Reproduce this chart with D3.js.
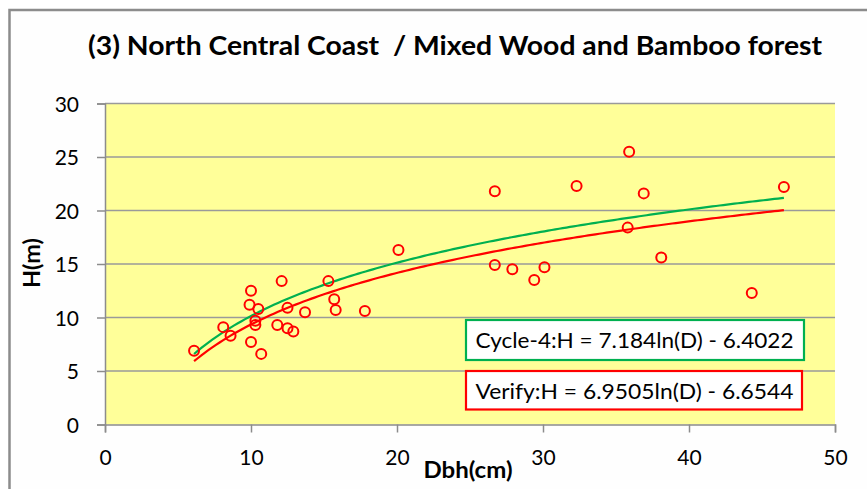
<!DOCTYPE html>
<html>
<head>
<meta charset="utf-8">
<script src="https://cdn.jsdelivr.net/npm/d3@7"></script>
<style>
  body { margin: 0; background: #ffffff; }
  text { font-family: Lato, "Open Sans", sans-serif; fill: #000; white-space: pre; }
</style>
</head>
<body>
<div id="chart"></div>
<script>
var svgWidth = 867;
var svgHeight = 489;

var margin = { top: 103.5, right: 32, bottom: 64.5, left: 105 };
var width = svgWidth - margin.left - margin.right;
var height = svgHeight - margin.top - margin.bottom;

var dbh = [6.1, 8.1, 8.6, 10.0, 9.9, 10.5, 10.3, 10.3, 10.0, 10.7,
           12.1, 12.5, 11.8, 12.5, 12.9, 13.7, 15.3, 15.7, 15.8, 17.8,
           20.1, 26.7, 26.7, 27.9, 29.4, 30.1, 32.3, 35.9, 35.8, 36.9,
           38.1, 44.3, 46.5];
var treeHeight = [6.9, 9.1, 8.3, 12.5, 11.2, 10.8, 9.7, 9.3, 7.7, 6.6,
                  13.4, 10.9, 9.3, 9.0, 8.7, 10.5, 13.4, 11.7, 10.7, 10.6,
                  16.3, 21.8, 14.9, 14.5, 13.5, 14.7, 22.3, 25.5, 18.4, 21.6,
                  15.6, 12.3, 22.2];

// log trendlines H = a*ln(D) + b, as printed in the boxes
var trendNames = ["Cycle-4", "Verify"];
var trendSlope = [7.184, 6.9505];
var trendIntercept = [-6.4022, -6.6544];
var trendLabels = ["Cycle-4:H = 7.184ln(D) - 6.4022", "Verify:H = 6.9505ln(D) - 6.6544"];
var trendColors = ["#00b050", "#ff0000"];

var xTicks = [0, 10, 20, 30, 40, 50];
var yTicks = [0, 5, 10, 15, 20, 25, 30];

var svg = d3.select("#chart")
  .append("svg")
  .attr("width", svgWidth)
  .attr("height", svgHeight);

// outer chart frame (runs off the right and bottom of the picture)
svg.append("rect")
  .attr("x", 9.5)
  .attr("y", 10)
  .attr("width", 900)
  .attr("height", 600)
  .attr("fill", "#fefefe")
  .attr("stroke", "#8c8c8c")
  .attr("stroke-width", 2.5);

svg.append("text")
  .attr("x", 455)
  .attr("y", 55)
  .attr("text-anchor", "middle")
  .attr("font-size", 26)
  .attr("font-weight", "bold")
  .attr("textLength", 734)
  .attr("lengthAdjust", "spacingAndGlyphs")
  .text("(3) North Central Coast  / Mixed Wood and Bamboo forest");

var chartGroup = svg.append("g")
  .attr("transform", `translate(${margin.left}, ${margin.top})`);

var xScale = d3.scaleLinear().domain([0, 50]).range([0, width]);
var yScale = d3.scaleLinear().domain([0, 30]).range([height, 0]);

chartGroup.append("rect")
  .attr("width", width)
  .attr("height", height)
  .attr("fill", "#ffff99");

// gridlines
chartGroup.append("g")
  .selectAll("line")
  .data(yTicks.filter(d => d > 0))
  .enter()
  .append("line")
  .attr("x1", 0)
  .attr("x2", width)
  .attr("y1", d => yScale(d))
  .attr("y2", d => yScale(d))
  .attr("stroke", "#9a9a9a")
  .attr("stroke-width", 1.5);

var bottomAxis = d3.axisBottom(xScale).tickValues(xTicks).tickSize(8).tickPadding(18);
var leftAxis = d3.axisLeft(yScale).tickValues(yTicks).tickSize(8).tickPadding(18);

var xAxis = chartGroup.append("g")
  .attr("transform", `translate(0, ${height})`)
  .call(bottomAxis);

var yAxis = chartGroup.append("g")
  .call(leftAxis);

[xAxis, yAxis].forEach(function(ax) {
  ax.select(".domain").attr("stroke", "#8c8c8c").attr("stroke-width", 1.5);
  ax.selectAll(".tick line").attr("stroke", "#8c8c8c").attr("stroke-width", 1.5);
  ax.selectAll(".tick text")
    .attr("font-family", "Lato, sans-serif")
    .attr("font-size", 21)
    .attr("fill", "#000");
});
yAxis.selectAll(".tick text").attr("dy", "0.36em");

// trendlines
var line = d3.line()
  .x(d => xScale(d[0]))
  .y(d => yScale(d[1]));

var xMin = d3.min(dbh);
var xMax = d3.max(dbh);

trendNames.forEach(function(name, i) {
  var pts = d3.range(xMin, xMax, 0.25).concat([xMax])
    .map(x => [x, trendSlope[i] * Math.log(x) + trendIntercept[i]]);
  chartGroup.append("path")
    .datum(pts)
    .attr("fill", "none")
    .attr("stroke", trendColors[i])
    .attr("stroke-width", 2.2)
    .attr("d", line);
});

// observations
chartGroup.selectAll("circle")
  .data(dbh.map((d, i) => [d, treeHeight[i]]))
  .enter()
  .append("circle")
  .attr("cx", d => xScale(d[0]))
  .attr("cy", d => yScale(d[1]))
  .attr("r", 5)
  .attr("fill", "none")
  .attr("stroke", "#ff0000")
  .attr("stroke-width", 2);

// equation boxes
var boxes = [
  { x: 466, y: 320, w: 338, h: 40 },
  { x: 466, y: 371, w: 336, h: 38.5 }
];
trendLabels.forEach(function(label, i) {
  var b = boxes[i];
  svg.append("rect")
    .attr("x", b.x)
    .attr("y", b.y)
    .attr("width", b.w)
    .attr("height", b.h)
    .attr("fill", "#ffffff")
    .attr("stroke", trendColors[i])
    .attr("stroke-width", 2.2);
  svg.append("text")
    .attr("x", b.x + 9.5)
    .attr("y", b.y + 28)
    .attr("font-size", 21)
    .attr("textLength", 318)
    .attr("lengthAdjust", "spacingAndGlyphs")
    .text(label);
});

// axis titles
svg.append("text")
  .attr("x", 468)
  .attr("y", 478)
  .attr("text-anchor", "middle")
  .attr("font-size", 23)
  .attr("font-weight", "bold")
  .attr("textLength", 89)
  .attr("lengthAdjust", "spacingAndGlyphs")
  .text("Dbh(cm)");

svg.append("text")
  .attr("transform", "translate(40, 263) rotate(-90)")
  .attr("text-anchor", "middle")
  .attr("font-size", 22)
  .attr("font-weight", "bold")
  .attr("textLength", 50)
  .attr("lengthAdjust", "spacingAndGlyphs")
  .text("H(m)");
</script>
</body>
</html>
